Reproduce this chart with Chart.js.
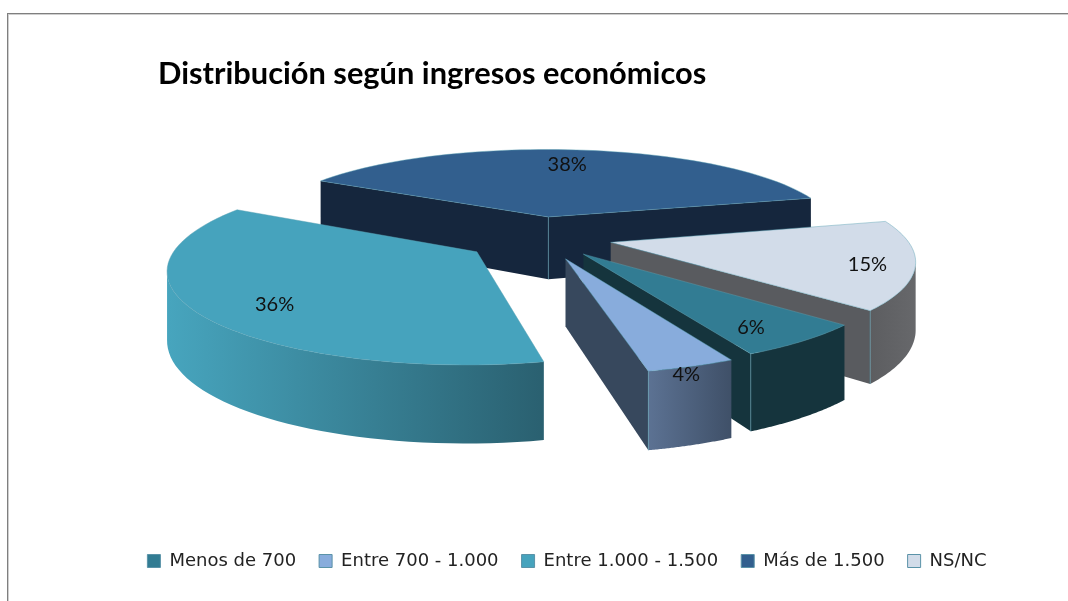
<!DOCTYPE html>
<html lang="es">
<head>
<meta charset="utf-8">
<title>Distribución según ingresos económicos</title>
<script src="https://cdn.jsdelivr.net/npm/chart.js@4"></script>
<style>
html,body{margin:0;padding:0;background:#fff;overflow:hidden}
#frame{position:absolute;left:7px;top:13px;width:1061px;height:588px;box-sizing:border-box;border-top:1px solid #7f7f7f;border-left:1px solid #7f7f7f;box-shadow:inset 1px 1px 0 #cfcfcf}
canvas{position:absolute;left:0;top:0}
</style>
</head>
<body>
<div id="frame"></div>
<canvas id="c" width="1068" height="601"></canvas>
<script>
const categories = ['Menos de 700','Entre 700 - 1.000','Entre 1.000 - 1.500','Más de 1.500','NS/NC'];
const percentages = [6,4,36,38,15];
const titleText = 'Distribución según ingresos económicos';

const topColors   = ['#327c93','#88acdc','#46a3bd','#325f8e','#d2dce9'];
const wallColors  = ['#15343d','#37485d','#2c6675','#15263d','#595b5f'];
const rimStart    = ['#15343d','#5c7293','#47a5be','#15263d','#5c5d60'];
const rimEnd      = ['#15343d','#3f5068','#2a6070','#15263d','#67686b'];
const explode     = [68,72,77,68,72];
const labelFrac   = [0.83,1.05,0.78,0.74,0.85];
const labelTurn   = [3,2,-3,-1,2];

const pie3d = {
  id:'pie3d',
  afterLayout(chart){
    const o = chart.options.plugins.pie3d, T = chart.titleBlock;
    T.left = o.titleX; T.right = o.titleX + 700;
  },
  beforeDatasetDraw(chart,args,o){
    const ctx = chart.ctx, arcs = chart.getDatasetMeta(0).data, R = arcs[0].outerRadius;
    const scale = y => 1 + o.persp*y/R;
    const P = (x,y) => { const s = scale(y); return {x:o.cx + x*s, y:o.cy + y*o.tilt*s, s}; };
    const low = p => ({x:p.x, y:p.y + o.depth*Math.pow(p.s,o.depthPow)});
    const poly = list => { ctx.beginPath(); list.forEach((p,k)=>k?ctx.lineTo(p.x,p.y):ctx.moveTo(p.x,p.y)); ctx.closePath(); };
    const area = list => list.reduce((t,p,k)=>{const q=list[(k+1)%list.length];return t+(q.x-p.x)*(q.y+p.y);},0);
    const order = arcs.map((a,i)=>i).sort((i,j)=>Math.sin((arcs[i].startAngle+arcs[i].endAngle)/2)-Math.sin((arcs[j].startAngle+arcs[j].endAngle)/2));
    const edge = (a,b) => { ctx.strokeStyle=o.edge; ctx.lineWidth=0.8; ctx.beginPath(); ctx.moveTo(a.x,a.y); ctx.lineTo(b.x,b.y); ctx.stroke(); };
    const labels = [];
    ctx.save();
    for(const i of order){
      const a = arcs[i], mid = (a.startAngle+a.endAngle)/2, off = a.options.offset;
      const ox = off*Math.cos(mid), oy = off*Math.sin(mid);
      const tip = P(ox,oy), pts = [];
      const n = 60;
      for(let k=0;k<=n;k++){
        const t = a.startAngle+(a.endAngle-a.startAngle)*k/n;
        pts.push(P(ox+R*Math.cos(t), oy+R*Math.sin(t)));
      }
      const first = pts[0], last = pts[n];
      // radial walls: only the faces turned to the camera
      const w1 = [tip,low(tip),low(first),first], w2 = [last,low(last),low(tip),tip];
      const seen1 = area(w1) < 0, seen2 = area(w2) < 0;
      ctx.fillStyle = wallColors[i];
      if(seen1){ poly(w1); ctx.fill(); }
      if(seen2){ poly(w2); ctx.fill(); }
      // outer rim: one polygon over the run of segments facing the camera
      const xs = pts.map(p=>p.x), g = ctx.createLinearGradient(Math.min(...xs),0,Math.max(...xs),0);
      g.addColorStop(0,rimStart[i]); g.addColorStop(1,rimEnd[i]);
      let run = [], rimFirst = false, rimLast = false;
      const flush = () => {
        if(run.length>1){ poly(run.concat(run.map(low).reverse())); ctx.fillStyle=g; ctx.fill(); }
        run = [];
      };
      for(let k=0;k<n;k++){
        const vis = area([pts[k],pts[k+1],low(pts[k+1]),low(pts[k])]) > 0;
        if(vis){ if(!run.length) run.push(pts[k]); run.push(pts[k+1]); if(k===0) rimFirst=true; if(k===n-1) rimLast=true; }
        else flush();
      }
      flush();
      if(seen1 && seen2) edge(tip,low(tip));
      if(seen1 && rimFirst) edge(first,low(first));
      if(seen2 && rimLast) edge(last,low(last));
      // top face
      poly([tip,...pts]);
      ctx.fillStyle = a.options.backgroundColor; ctx.fill();
      ctx.strokeStyle = o.edge; ctx.lineWidth = 0.6; ctx.stroke();
      const la = mid + labelTurn[i]*Math.PI/180, lr = R*labelFrac[i];
      labels.push([i,P(ox+lr*Math.cos(la), oy+lr*Math.sin(la))]);
    }
    ctx.fillStyle = '#111'; ctx.font = o.labelFont; ctx.textAlign='center'; ctx.textBaseline='middle';
    for(const [i,p] of labels) ctx.fillText(percentages[i]+'%',p.x,p.y);
    ctx.restore();
    return false;
  }
};

new Chart(document.getElementById('c'),{
  type:'pie',
  plugins:[pie3d],
  data:{labels:categories,datasets:[{
    data:percentages,
    backgroundColor:topColors,
    borderColor:'#5a93a8',
    borderWidth:1,
    offset:explode
  }]},
  options:{
    responsive:false,
    animation:false,
    events:[],
    rotation:131,
    radius:295,
    layout:{padding:{left:66,right:0,top:0,bottom:21}},
    plugins:{
      pie3d:{cx:540,cy:237,persp:0.18,tilt:0.31,depth:65,depthPow:1,edge:'rgba(90,160,180,0.75)',
             labelFont:'20px Lato',titleX:158},
      tooltip:{enabled:false},
      title:{display:true,text:titleText,align:'start',color:'#000',
             font:{family:'Lato',size:30.8,weight:'bold'},padding:{top:56,bottom:0}},
      legend:{position:'bottom',labels:{boxWidth:13,boxHeight:13,padding:23,color:'#222',
             font:{family:'"DejaVu Sans"',size:18}}}
    }
  }
});
</script>
</body>
</html>
